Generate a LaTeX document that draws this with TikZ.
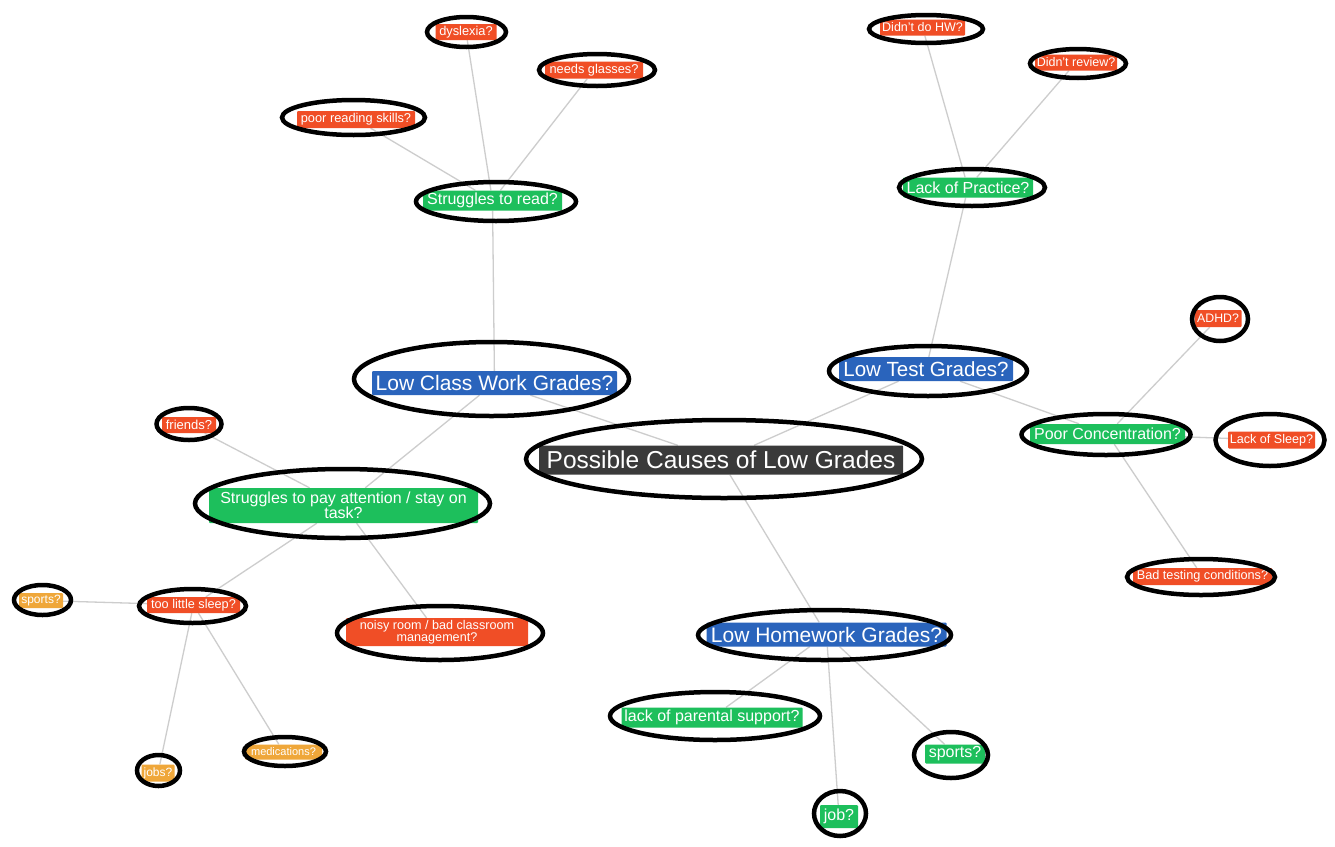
\documentclass[tikz,border=0pt]{standalone}
\usepackage{fontspec}
\setmainfont{Liberation Sans}
\usetikzlibrary{backgrounds}
\definecolor{cblue}{HTML}{2A64BC}
\definecolor{cgreen}{HTML}{1DBF5C}
\definecolor{cred}{HTML}{F04E26}
\definecolor{corange}{HTML}{EFA73A}
\definecolor{cdark}{HTML}{3A3A3A}
\definecolor{linkgray}{HTML}{CDCDCD}
\newcommand\fsz[1]{\fontsize{#1}{#1}\selectfont}
\tikzset{
  tag/.style={rectangle, text=white, inner sep=0pt, align=center, rounded corners=1pt},
  darktag/.style={tag, fill=cdark},
  bluetag/.style={tag, fill=cblue},
  greentag/.style={tag, fill=cgreen},
  redtag/.style={tag, fill=cred},
  orangetag/.style={tag, fill=corange},
  ring/.style={draw=black, line width=4.5pt},
  link/.style={draw=linkgray, line width=1.3pt},
}
\begin{document}
\begin{tikzpicture}[x=1pt,y=-1pt]
\useasboundingbox (0,0) rectangle (1335,846);
% nodes
\node[darktag, font=\fsz{24.5}, minimum width=364pt, minimum height=29pt] (pc) at (721,460) {Possible Causes of Low Grades};
\node[bluetag, font=\fsz{21}, minimum width=245pt, minimum height=24pt] (lcw) at (494.5,383) {Low Class Work Grades?};
\node[bluetag, font=\fsz{20.5}, minimum width=174pt, minimum height=24pt] (ltg) at (926,369) {Low Test Grades?};
\node[bluetag, font=\fsz{21}, minimum width=240pt, minimum height=24pt] (lhg) at (826.5,634.5) {Low Homework Grades?};
\node[greentag, font=\fsz{16}, minimum width=139pt, minimum height=20pt] (str) at (492.5,200.5) {Struggles to read?};
\node[greentag, font=\fsz{16}, minimum width=130pt, minimum height=20pt] (lop) at (968,187.5) {Lack of Practice?};
\node[greentag, font=\fsz{16}, minimum width=155pt, minimum height=20pt] (pcon) at (1107.5,434) {Poor Concentration?};
\node[greentag, font={\fontsize{16}{15}\selectfont}, minimum width=269pt, minimum height=35pt] (spa) at (343.5,505.5) {Struggles to pay attention / stay on\\task?};
\node[greentag, font=\fsz{16}, minimum width=181pt, minimum height=20pt] (lps) at (712,717.5) {lack of parental support?};
\node[greentag, font=\fsz{16}, minimum width=60pt, minimum height=19pt] (gsp) at (955,754) {sports?};
\node[greentag, font=\fsz{16}, minimum width=38pt, minimum height=23pt] (job) at (839,816.5) {job?};
\node[redtag, font=\fsz{12.8}, minimum width=61pt, minimum height=16pt] (dys) at (466,32) {dyslexia?};
\node[redtag, font=\fsz{12.8}, minimum width=98pt, minimum height=17pt] (gls) at (594,70) {needs glasses?};
\node[redtag, font=\fsz{12.8}, minimum width=118pt, minimum height=17pt] (prs) at (356,119.5) {poor reading skills?};
\node[redtag, font=\fsz{12.5}, minimum width=85pt, minimum height=16pt] (dhw) at (922.5,27.5) {Didn't do HW?};
\node[redtag, font=\fsz{12.5}, minimum width=82pt, minimum height=16pt] (drv) at (1076,62.5) {Didn't review?};
\node[redtag, font=\fsz{12.3}, minimum width=47pt, minimum height=17pt] (adhd) at (1218,318.5) {ADHD?};
\node[redtag, font=\fsz{12.6}, minimum width=87pt, minimum height=17pt] (los) at (1271.5,440) {Lack of Sleep?};
\node[redtag, font=\fsz{12.7}, minimum width=139pt, minimum height=17pt] (btc) at (1202.5,576.5) {Bad testing conditions?};
\node[redtag, font=\fsz{13}, minimum width=54pt, minimum height=16pt] (frd) at (189,425) {friends?};
\node[redtag, font=\fsz{12.7}, minimum width=93pt, minimum height=16pt] (tls) at (193.5,605) {too little sleep?};
\node[redtag, font={\fontsize{12.6}{12.5}\selectfont}, minimum width=182pt, minimum height=28pt] (nrm) at (437,632) {noisy room / bad classroom\\management?};
\node[orangetag, font=\fsz{12}, minimum width=44pt, minimum height=15pt] (osp) at (41,600.5) {sports?};
\node[orangetag, font=\fsz{12}, minimum width=33pt, minimum height=17pt] (jbs) at (158,773) {jobs?};
\node[orangetag, font=\fsz{11}, minimum width=77pt, minimum height=15pt] (med) at (283.5,752) {medications?};
% connectors
\begin{scope}[on background layer]
\fill[white] (0,0) rectangle (1335,846);
\draw[link] (pc) -- (lcw);
\draw[link] (pc) -- (ltg);
\draw[link] (pc) -- (lhg);
\draw[link] (lcw) -- (str);
\draw[link] (lcw) -- (spa);
\draw[link] (str) -- (dys);
\draw[link] (str) -- (gls);
\draw[link] (str) -- (prs);
\draw[link] (ltg) -- (lop);
\draw[link] (ltg) -- (pcon);
\draw[link] (lop) -- (dhw);
\draw[link] (lop) -- (drv);
\draw[link] (pcon) -- (adhd);
\draw[link] (pcon) -- (los);
\draw[link] (pcon) -- (btc);
\draw[link] (spa) -- (frd);
\draw[link] (spa) -- (tls);
\draw[link] (spa) -- (nrm);
\draw[link] (tls) -- (osp);
\draw[link] (tls) -- (jbs);
\draw[link] (tls) -- (med);
\draw[link] (lhg) -- (lps);
\draw[link] (lhg) -- (gsp);
\draw[link] (lhg) -- (job);
\end{scope}
% rings
\draw[ring] (724,459) ellipse [x radius=198pt, y radius=39pt];
\draw[ring] (491.5,379) ellipse [x radius=137.5pt, y radius=37pt];
\draw[ring] (928,371) ellipse [x radius=99pt, y radius=25pt];
\draw[ring] (824.5,635) ellipse [x radius=126.5pt, y radius=25pt];
\draw[ring] (496,201.5) ellipse [x radius=80pt, y radius=19.5pt];
\draw[ring] (972,187.5) ellipse [x radius=73pt, y radius=18.5pt];
\draw[ring] (1106,434.5) ellipse [x radius=84.5pt, y radius=20.5pt];
\draw[ring] (342.5,503.5) ellipse [x radius=147.5pt, y radius=34.5pt];
\draw[ring] (715,716) ellipse [x radius=105pt, y radius=24pt];
\draw[ring] (951,755) ellipse [x radius=37pt, y radius=23pt];
\draw[ring] (840,813.5) ellipse [x radius=26pt, y radius=22.5pt];
\draw[ring] (466.5,32) ellipse [x radius=39.5pt, y radius=15pt];
\draw[ring] (597,70) ellipse [x radius=58pt, y radius=16pt];
\draw[ring] (353.5,117.5) ellipse [x radius=71.5pt, y radius=17.5pt];
\draw[ring] (926,29) ellipse [x radius=57pt, y radius=14pt];
\draw[ring] (1078,63.5) ellipse [x radius=48pt, y radius=14.5pt];
\draw[ring] (1220,319) ellipse [x radius=28pt, y radius=22pt];
\draw[ring] (1270,440) ellipse [x radius=54.5pt, y radius=26pt];
\draw[ring] (1201,577) ellipse [x radius=74pt, y radius=18pt];
\draw[ring] (189,424) ellipse [x radius=32.5pt, y radius=16pt];
\draw[ring] (192.5,606) ellipse [x radius=53.5pt, y radius=17pt];
\draw[ring] (440,633) ellipse [x radius=103pt, y radius=27pt];
\draw[ring] (42.5,600) ellipse [x radius=28.5pt, y radius=15pt];
\draw[ring] (158.5,770.5) ellipse [x radius=21.5pt, y radius=15.5pt];
\draw[ring] (285,751.5) ellipse [x radius=41pt, y radius=14.5pt];
\end{tikzpicture}
\end{document}
